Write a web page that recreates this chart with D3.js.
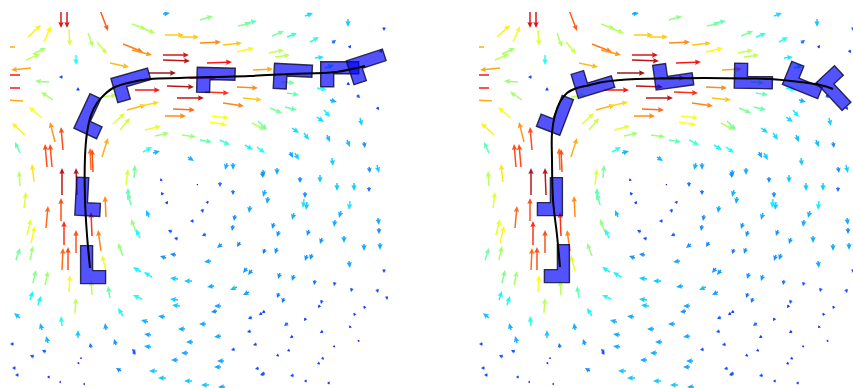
<!DOCTYPE html>
<html><head><meta charset="utf-8">
<script src="https://cdn.jsdelivr.net/npm/d3@7"></script>
<style>body{margin:0;background:#fff}svg{display:block}</style>
</head><body>
<svg id="chart" width="853" height="388"></svg>
<script>
// ---- DATA (field coordinates; each arrow = [x, y, u, v], tail + vector) ----
const arrowsTopLeft = [
[61,2,0,26],[67,2,0,26],[100,10,8,21],[28,37,13,-12],[44,42,7,-16],
[69,30,1,16],[88,33,5,14],[97,42,10,12],[110,63,19,4],[123,44,20,8],[132,50,20,5],
[15,47,-20,0],[26,60,14,-6],[33,54,13,-6],[76,55,0,10],[31,68,-20,2],
[20,75,-25,0],[20,88,-25,0],[23,101,-20,-1],[49,82,-14,-1],[63,77,-4,0],[78,91,0,-4],
[53,100,-12,-8],[42,118,-13,-11],[25,135,-13,-12],[55,142,-5,-20],[63,150,-2,-23],
[102,97,15,-2],[127,110,19,-5],[113,124,12,-11],[120,130,10,-12],[20,153,-5,-11],
[102,157,6,-19],[47,167,-2,-23],[52,167,-2,-23],[62,195,0,-27],[34,182,-2,-18],
[20,186,-1,-15],[77,195,-1,-27],[91,170,-1,-22],[93,172,-1,-23],[126,185,2,-16],
[134,178,1,-13],[128,200,0,-12]
];
const arrowsTopMid = [
[163,14,7,-1],[200,20,13,-4],[132,24,14,5],[141,28,14,5],[238,26,13,-3],[245,23,12,-2],
[165,35,19,0],[180,37,19,0],[200,43,21,-1],[223,45,19,-2],[237,52,17,-4],
[163,55,26,0],[163,60,27,1],[207,63,25,-1],[148,73,28,0],[190,78,26,0],[135,90,25,0],
[167,86,27,1],[205,92,24,1],[177,98,27,0],[237,87,21,1],[223,103,21,3],[243,98,19,2],
[141,106,18,-4],[173,109,22,1],[165,116,21,0],[212,116,17,2],[210,122,17,3],
[145,130,16,-4],[155,136,14,-3],[182,135,14,2],[200,140,12,2],[220,140,10,5],
[252,123,13,7],[245,145,8,5],[257,147,8,6],[143,152,9,-5],[153,153,7,-2],
[188,157,6,4],[227,163,-2,7],[233,163,0,7],[263,170,1,7],
[162,179,-2,2],[197,185,1,-1],[220,182,0,5],[233,190,0,5],[163,195,-2,-3]
];
const arrowsTopRight = [
[305,16,8,-3],[348,19,0,8],[384,27,0,4],[272,36,12,-5],[287,37,10,-4],[310,42,9,-5],
[332,43,4,-3],[349,48,2,-3],[269,53,15,-3],[275,57,15,-2],[315,58,9,-1],[380,50,2,3],
[253,70,20,-1],[325,68,9,-3],[347,83,3,2],[282,82,13,1],[317,88,10,2],[330,100,7,2],
[357,95,3,3],[287,93,12,2],[285,107,12,3],[270,108,12,5],[377,107,2,3],
[317,117,7,5],[324,110,6,7],[360,118,2,8],[258,121,9,9],[292,128,7,5],[304,133,5,7],
[327,135,3,7],[347,140,3,7],[364,142,1,6],[290,152,3,6],[295,153,4,7],[332,158,1,8],
[369,167,1,6],[377,165,2,8],[277,168,0,7],[262,172,1,6],[300,177,0,6],[320,175,0,8],
[337,183,0,8],[354,183,0,8],[265,190,-2,7],[305,192,0,6],[369,187,0,5]
];
const arrowsBottomLeft = [
[61,221,0,-23],[46,228,2,-22],[64,245,0,-24],[76,253,0,-23],[92,236,-1,-24],
[101,251,-3,-21],[106,217,-1,-21],[62,270,1,-22],[68,270,0,-23],[106,271,-4,-16],
[69,292,1,-17],[92,295,-1,-15],[24,208,2,-16],[27,235,4,-16],[31,243,4,-17],
[30,260,3,-14],[16,260,4,-12],[45,285,3,-14],[33,283,3,-13],[38,305,3,-9],[30,300,3,-9],
[75,313,1,-15],[123,256,-5,-13],[136,232,-5,-13],[110,298,-2,-12],[131,205,-3,-12],
[20,318,-6,-5],[62,326,-1,-10],[123,316,-5,-8],[42,330,-2,-7],[78,338,0,-8],
[106,330,-1,-7],[116,345,-2,-6],[48,343,-2,-7],[14,344,-4,0],[34,357,-4,-2],
[46,352,-4,-2],[91,348,-1,-5],[78,364,1,-2],[81,359,0,-2],[121,371,-5,-3],
[135,352,-3,-3],[16,368,-4,0],[19,375,-4,0],[50,377,-3,0],[61,382,-2,0],[85,384,-2,0]
];
const arrowsBottomMid = [
[166,204,2,-3],[207,201,1,3],[149,217,-3,-7],[202,209,1,4],[194,221,-4,0],
[250,206,-1,7],[235,215,-1,6],[233,225,-1,6],[172,232,-4,-2],[178,239,-4,-1],
[206,234,-4,2],[222,244,-5,4],[240,242,-3,5],[140,238,-4,-9],[166,258,-6,-2],
[176,255,-6,-1],[211,261,-7,1],[247,268,-4,5],[252,270,-4,5],[141,272,-8,-5],
[152,277,-8,-5],[178,279,-8,-1],[192,281,-8,0],[214,286,-7,1],[237,287,-7,3],
[249,292,-6,3],[142,299,-9,-4],[178,300,-8,-1],[180,306,-8,-1],[221,306,-7,0],
[217,311,-6,1],[252,317,-4,2],[165,317,-7,-1],[148,322,-7,-2],[206,324,-7,0],
[185,329,-7,0],[262,313,-3,2],[151,335,-7,-1],[221,336,-7,1],[251,331,-4,1],
[193,342,-7,0],[151,347,-7,-1],[235,349,-4,1],[257,344,-4,1],[188,353,-7,0],
[136,353,-4,0],[178,360,-7,0],[224,361,-7,0],[221,367,-7,0],[157,371,-8,0],
[166,378,-8,0],[192,381,-8,0],[209,385,-8,0],[225,387,-7,0],[259,368,-4,1],[264,374,-4,1]
];
const arrowsBottomRight = [
[268,197,-1,7],[304,199,-1,9],[307,202,-1,8],[350,201,-1,9],[341,211,-2,7],[335,220,-1,7],
[294,213,-2,7],[274,223,-2,6],[378,218,1,7],[379,228,0,6],[279,231,-2,6],[309,230,-2,6],
[322,238,-2,6],[344,236,0,7],[265,249,-2,5],[277,248,-2,6],[364,244,0,7],[380,243,0,7],
[307,255,-2,6],[312,254,-2,6],[349,261,1,7],[384,269,0,4],[280,273,-2,6],[294,275,-2,6],
[315,280,-1,5],[335,282,-1,4],[352,288,-1,4],[377,289,1,4],[387,296,0,4],
[279,293,-2,5],[284,298,-2,5],[322,300,-1,4],[320,305,-2,3],[365,306,-1,3],[355,313,-1,3],
[265,311,-3,2],[288,323,-4,3],[306,318,-2,3],[351,326,-2,2],[293,336,-3,2],[323,331,-3,2],
[359,340,-1,2],[335,346,-2,1],[290,350,-3,1],[279,355,-3,1],[324,358,-3,1],[320,363,-3,1],
[265,373,-4,1],[294,375,-4,1],[307,381,-3,0],[330,383,-3,0]
];

// trajectory of the body centroid, per panel
const pathLeft = [[90,268],[87,235],[85,200],[85,157],[87,133],[91,115],[97,103],[104,95],
  [113,88],[128,83],[150,79],[180,78],[212,77],[250,76],[290,74],[336,72],[365,66]];
const pathRight = [[91,267],[88,235],[84,200],[83,160],[83,133],[86,115],[91,102],[98,93],
  [108,88],[121,85],[134,82],[168,79],[201,78.5],[234,78],[281,78.5],[301,79],[331,82],[351,85],[364,89]];

// body poses: [cx, cy, angle (deg, clockwise from upward)]
const posesLeft = [[90,268,0],[85,200,3],[89,118,25],[128.5,83.3,74],[212.6,77,91.5],
  [289.6,73.5,93],[336.3,71.1,90],[364,65,72]];
const posesRight = [[91,267,0],[84,200,0],[87.6,117.3,21],[121.6,84.8,73],[201.3,78.6,82],
  [281,79,91],[331.4,81.6,112],[364.7,87.7,137]];

// ---- DRAWING ----
const svg = d3.select("#chart");
const allArrows = [].concat(arrowsTopLeft, arrowsTopMid, arrowsTopRight,
                            arrowsBottomLeft, arrowsBottomMid, arrowsBottomRight);
const colorNorm = d3.scaleLinear().domain([-1.5, 28.5]).range([0, 1]).clamp(true);
function jet(t){
  t = Math.max(0, Math.min(1, t));
  const c = v => Math.round(255*Math.max(0, Math.min(1, v)));
  return `rgb(${c(1.5-Math.abs(4*t-3))},${c(1.5-Math.abs(4*t-2))},${c(1.5-Math.abs(4*t-1))})`;
}
function arrowPath(x0, y0, dx, dy){
  const L = Math.hypot(dx, dy);
  if (L < 0.3) return "";
  let sw = 1.5, hl = 6, hal = 5.3, hw = 5.4;
  if (L < 7){ const s = Math.sqrt(L/7); sw*=s; hw*=s; hl=Math.min(hl*s, L*0.85); hal=hl*0.88; }
  const pts = [[0,-sw/2],[L-hal,-sw/2],[L-hl,-hw/2],[L,0],[L-hl,hw/2],[L-hal,sw/2],[0,sw/2]];
  const ca = dx/L, sa = dy/L;
  return "M" + pts.map(([u,v]) => (x0+u*ca-v*sa).toFixed(2)+","+(y0+u*sa+v*ca).toFixed(2)).join("L") + "Z";
}
const bodyShapeL = [[-9.4,-22.4],[2.6,-22.4],[2.6,2.6],[15.6,2.6],[15.6,15.6],[-9.4,15.6]];
const bodyShapeJ = bodyShapeL.map(([x,y]) => [-x,y]);

const panels = [
  {id:"p1", left:10, path:pathLeft, poses:posesLeft, shape:bodyShapeL},
  {id:"p2", left:479, path:pathRight, poses:posesRight, shape:bodyShapeJ}
];
const defs = svg.append("defs");
panels.forEach(p => {
  const xs = d3.scaleLinear().domain([10,388]).range([p.left, p.left+378]);
  const ys = d3.scaleLinear().domain([12,388]).range([12,388]);
  defs.append("clipPath").attr("id","clip-"+p.id).append("rect")
    .attr("x", xs(10)).attr("y", ys(12)).attr("width", xs(388)-xs(10)).attr("height", 400);
  const g = svg.append("g").attr("clip-path", `url(#clip-${p.id})`);
  g.append("g").attr("opacity", 0.9).selectAll("path").data(allArrows).join("path")
    .attr("d", d => {
      const x0 = xs(d[0]), y0 = ys(d[1]);
      return arrowPath(x0, y0, xs(d[0]+d[2])-x0, ys(d[1]+d[3])-y0);
    })
    .attr("fill", d => jet(colorNorm(Math.hypot(d[2], d[3]))));
  const k = xs(1)-xs(0);
  g.append("g").selectAll("polygon").data(p.poses).join("polygon")
    .attr("points", p.shape.map(([x,y]) => [x*k, y*k].join(",")).join(" "))
    .attr("transform", d => `translate(${xs(d[0])},${ys(d[1])}) rotate(${d[2]})`)
    .attr("fill", "#0000ff").attr("fill-opacity", 0.68)
    .attr("stroke", "#10103a").attr("stroke-opacity", 0.85).attr("stroke-width", 1.4)
    .attr("stroke-linejoin", "miter");
  const line = d3.line().x(d => xs(d[0])).y(d => ys(d[1])).curve(d3.curveCatmullRom.alpha(0.5));
  g.append("path").attr("d", line(p.path)).attr("fill","none")
    .attr("stroke","#000").attr("stroke-width",2);
});
</script>
</body></html>
